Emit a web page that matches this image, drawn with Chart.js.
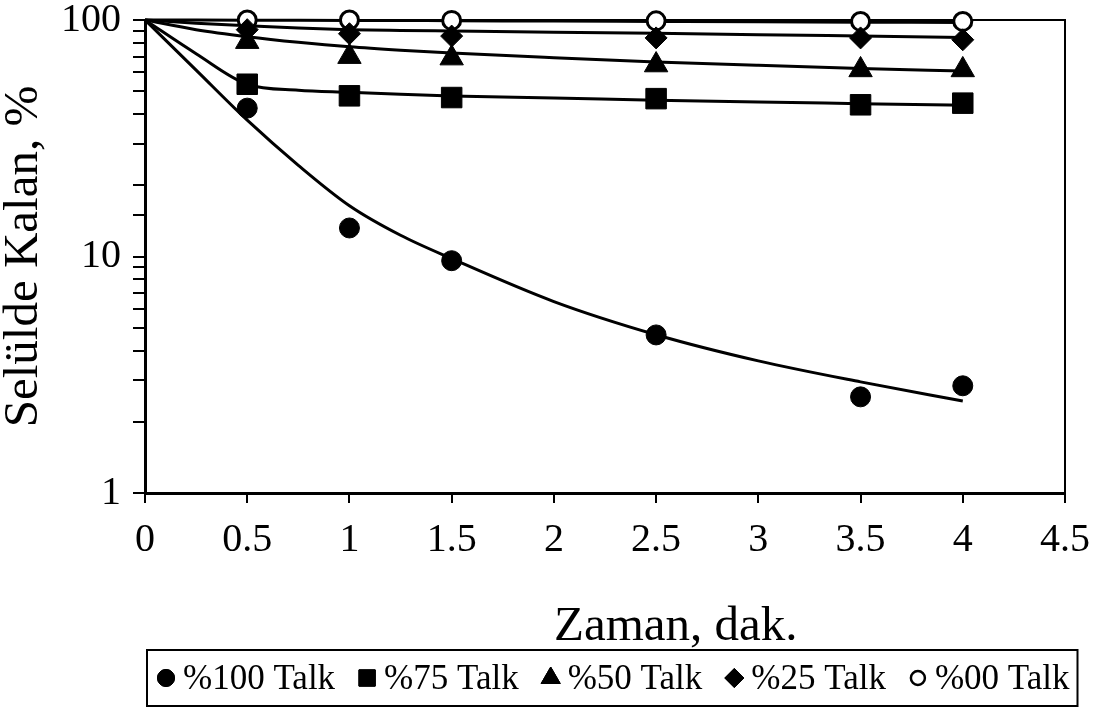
<!DOCTYPE html>
<html>
<head>
<meta charset="utf-8">
<title>Selülde Kalan</title>
<script src="https://cdn.jsdelivr.net/npm/chart.js@4.4.1/dist/chart.umd.min.js"></script>
<style>
  html, body { margin: 0; padding: 0; background: #fff; }
</style>
</head>
<body>
<canvas id="talk-chart" width="1111" height="722"></canvas>
<script>
// measured points (time in minutes, % remaining in cell)
const zaman = [0.5, 1, 1.5, 2.5, 3.5, 4];
const talk100 = [42.4, 13.2, 9.6, 4.66, 2.55, 2.84];
const talk75 = [53.5, 47.8, 47, 46.5, 43.8, 44.5];
const talk50 = [81, 70, 69, 64.5, 61.5, 61.5];
const talk25 = [91, 87.5, 85.5, 84, 84, 82.5];
const talk00 = [100, 100, 99.6, 99.2, 98.6, 98.6];

// fitted curves
const trendZaman = [0, 0.25, 0.5, 0.75, 1, 1.25, 1.5, 2, 2.5, 3, 3.5, 4];
const trend100 = [100, 61.4, 37.7, 24.3, 16.4, 12.3, 9.8, 6.45, 4.67, 3.62, 2.95, 2.45];
const trend75 = [100, 72, 53.5, 50.5, 49.5, 48.5, 47.7, 46.8, 45.8, 45, 44.3, 43.6];
const trend50 = [100, 91, 85, 80.5, 77, 74.5, 72.5, 69.3, 66.5, 64.3, 62.4, 60.8];
const trend25 = [100, 97, 94.5, 92.5, 91, 90.3, 89.8, 88.8, 87.8, 86.7, 85.5, 84.3];
const trend00 = [100, 99.9, 99.8, 99.7, 99.6, 99.5, 99.3, 99, 98.6, 98.2, 97.9, 97.6];

const xTicks = [0, 0.5, 1, 1.5, 2, 2.5, 3, 3.5, 4, 4.5];
const yLabels = [1, 10, 100];

const seriesNames = ['%100 Talk', '%75 Talk', '%50 Talk', '%25 Talk', '%00 Talk'];
const seriesValues = [talk100, talk75, talk50, talk25, talk00];
const trendValues = [trend100, trend75, trend50, trend25, trend00];
const markerStyles = ['circle', 'rect', 'triangle', 'rectRot', 'circle'];
const markerSizes = [10, 14.5, 13.5, 11, 9];
const legendSizes = [8.5, 11.5, 11, 9.5, 7];

const serif = "'Liberation Serif', 'Times New Roman', serif";

const toPoints = (xs, ys) => xs.map((x, i) => ({x: x, y: ys[i]}));

const markerSets = seriesNames.map((name, i) => ({
    label: name,
    data: toPoints(zaman, seriesValues[i]),
    showLine: false,
    pointStyle: markerStyles[i],
    pointRadius: markerSizes[i],
    pointHoverRadius: markerSizes[i],
    pointBackgroundColor: i === 4 ? '#fff' : '#000',
    pointBorderColor: '#000',
    pointBorderWidth: i === 4 ? 3 : 1,
    clip: false,
    order: 1
}));

const trendSets = trendValues.map((vals, i) => ({
    label: seriesNames[i] + ' trend',
    data: toPoints(trendZaman, vals),
    borderColor: '#000',
    borderWidth: 3,
    pointRadius: 0,
    cubicInterpolationMode: 'monotone',
    fill: false,
    clip: false,
    order: 2
}));

// plot frame, x axis title and the boxed one-line legend
const framePlugin = {
    id: 'frame',
    beforeDatasetsDraw(chart) {
        const a = chart.chartArea;
        const ctx = chart.ctx;
        ctx.save();
        ctx.strokeStyle = '#000';
        ctx.lineWidth = 2;
        ctx.strokeRect(a.left, a.top, a.right - a.left, a.bottom - a.top);
        ctx.restore();
    },
    afterDraw(chart) {
        const ctx = chart.ctx;
        const a = chart.chartArea;
        ctx.save();
        ctx.fillStyle = '#000';
        ctx.font = '49px ' + serif;
        ctx.textAlign = 'center';
        ctx.textBaseline = 'middle';
        ctx.fillText('Zaman, dak.', a.left + (a.right - a.left) * 0.577, a.bottom + 134);

        // legend
        ctx.font = '35px ' + serif;
        ctx.textAlign = 'left';
        const boxLeft = a.left + 2;
        const boxTop = a.bottom + 157;
        const boxH = 56;
        const midY = boxTop + boxH / 2;
        let x = boxLeft + 19;
        seriesNames.forEach((name, i) => {
            Chart.helpers.drawPoint(ctx, {
                pointStyle: markerStyles[i],
                radius: legendSizes[i],
                borderWidth: i === 4 ? 2.5 : 1
            }, x, midY);
            ctx.fillStyle = i === 4 ? '#fff' : '#000';
            ctx.strokeStyle = '#000';
            ctx.lineWidth = i === 4 ? 2.5 : 1;
            ctx.fill();
            ctx.stroke();
            ctx.fillStyle = '#000';
            ctx.fillText(name, x + 17, midY + 2);
            x += 17 + ctx.measureText(name).width + 32;
        });
        const boxRight = x - 32 + 8;
        ctx.strokeStyle = '#000';
        ctx.lineWidth = 2;
        ctx.strokeRect(boxLeft, boxTop, boxRight - boxLeft, boxH);
        ctx.restore();
    }
};

new Chart(document.getElementById('talk-chart'), {
    type: 'line',
    data: {
        datasets: [...markerSets, ...trendSets]
    },
    options: {
        responsive: false,
        animation: false,
        devicePixelRatio: 1,
        layout: {
            padding: {left: 0, right: 46, top: 0, bottom: 0}
        },
        plugins: {
            legend: {display: false},
            tooltip: {enabled: false},
            title: {display: false}
        },
        scales: {
            x: {
                type: 'linear',
                min: 0,
                max: 4.5,
                afterFit: scale => { scale.height += 145; },
                afterBuildTicks: scale => { scale.ticks = xTicks.map(v => ({value: v})); },
                ticks: {
                    color: '#000',
                    padding: 13,
                    autoSkip: false,
                    maxRotation: 0,
                    font: {family: serif, size: 40},
                    callback: v => String(v)
                },
                grid: {
                    drawOnChartArea: false,
                    drawTicks: true,
                    tickLength: 10,
                    color: '#000',
                    lineWidth: 2
                },
                border: {color: '#000', width: 3}
            },
            y: {
                type: 'logarithmic',
                min: 1,
                max: 100,
                title: {
                    display: true,
                    text: 'Selülde Kalan, %',
                    color: '#000',
                    font: {family: serif, size: 49, lineHeight: 1},
                    padding: {top: 0, bottom: 0}
                },
                ticks: {
                    color: '#000',
                    padding: 12,
                    autoSkip: false,
                    font: {family: serif, size: 40, lineHeight: 0.4},
                    callback: v => yLabels.includes(v) ? String(v) : ''
                },
                grid: {
                    drawOnChartArea: false,
                    drawTicks: true,
                    tickLength: 12,
                    color: '#000',
                    lineWidth: 2
                },
                border: {color: '#000', width: 3}
            }
        }
    },
    plugins: [framePlugin]
});
</script>
</body>
</html>
